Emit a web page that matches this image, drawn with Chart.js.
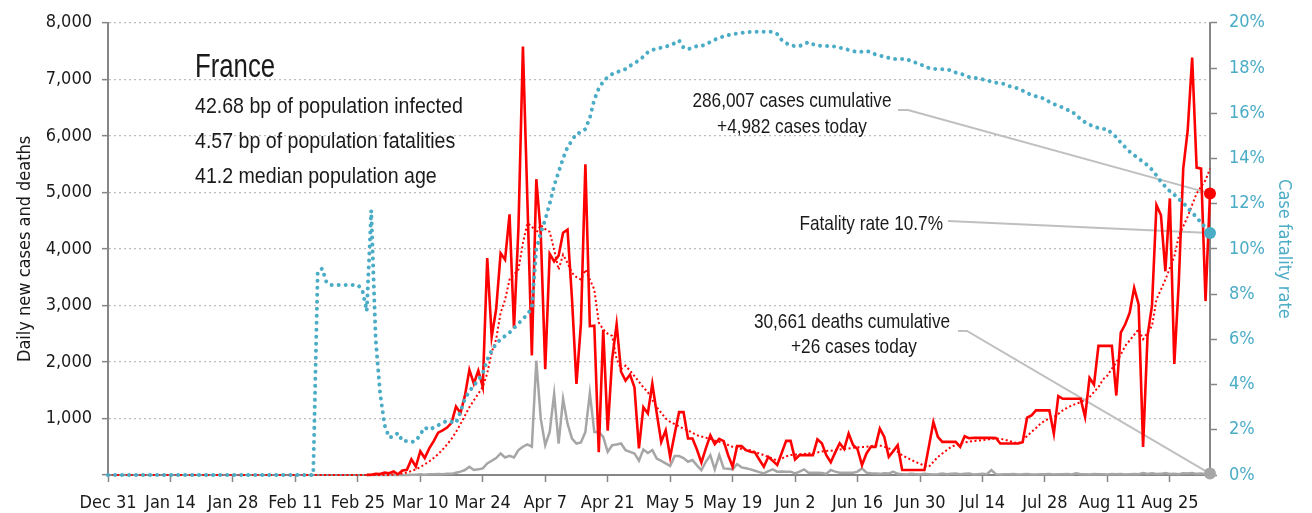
<!DOCTYPE html>
<html>
<head>
<meta charset="utf-8">
<script src="https://cdn.jsdelivr.net/npm/chart.js@4.4.1/dist/chart.umd.min.js"></script>
<style>
  html, body { margin: 0; padding: 0; background: #fff; }
  #wrap { width: 1312px; height: 513px; position: relative; }
</style>
</head>
<body>
<div id="wrap"><canvas id="myChart"></canvas></div>
<script>
const FONT = "'DejaVu Sans Condensed', 'Liberation Sans', sans-serif";
const NOTE_FONT = "'Liberation Sans', Arial, sans-serif";
const RED = '#ff0000';
const BLUE = '#4bacc6';
const DEATH_GRAY = '#a6a6a6';
const AXIS_GRAY = '#868686';

// one category per day, Dec 31 .. Sep 3
const monthNames = ['Jan', 'Feb', 'Mar', 'Apr', 'May', 'Jun', 'Jul', 'Aug', 'Sep', 'Oct', 'Nov', 'Dec'];
const days = [];
for (let i = 0; i < 248; i++) {
  const d = new Date(2019, 11, 31 + i);
  days.push(monthNames[d.getMonth()] + ' ' + d.getDate());
}
const tickLabels = ['Dec 31', 'Jan 14', 'Jan 28', 'Feb 11', 'Feb 25', 'Mar 10', 'Mar 24', 'Apr 7',
  'Apr 21', 'May 5', 'May 19', 'Jun 2', 'Jun 16', 'Jun 30', 'Jul 14', 'Jul 28', 'Aug 11', 'Aug 25'];

// daily new cases, from day 58 (Feb 26) on
const casesStart = 58;
const newCases = [
  2, 4, 20, 19, 43, 30, 61, 13, 81, 92, 276, 150, 420, 300, 470, 600, 750, 790, 840,
  924, 1210, 1097, 1404, 1861, 1617, 1847, 1559,
  3838, 2446, 2931, 3922, 3809, 4611, 2599, 4376, 7578, 4861,
  2116, 5233, 4267, 1873, 3912, 3777, 3881, 4286, 4342, 3114, 1613, 2673, 5497, 2633, 2641, 405,
  2569, 785, 2051, 2667, 1827, 1670, 1775, 1553, 470, 1200, 1090, 1615, 1090, 585, 790, 320,
  720, 1113, 1113, 645, 645, 450, 220, 470, 703, 545, 640, 600, 350, 146, 510, 510, 440, 410,
  400, 270, 146, 322, 250, 176, 390, 603, 603, 276, 352, 352, 352, 352, 630, 560, 352, 225,
  400, 563, 460, 732, 530, 457, 176, 381, 498, 498, 820, 674, 322, 420, 527, 88, 88, 88,
  88, 88, 88, 510, 938, 674, 586, 586, 586, 586, 498, 686, 650, 656, 656, 656, 656, 656,
  655, 557, 557, 557, 557, 557, 580, 1014, 1055, 1143, 1143, 1143, 1143, 732, 1395, 1348, 1348, 1348,
  1348, 1348, 1026, 1717, 1600, 2285, 2285, 2285, 2285, 1406, 2520, 2667, 2871, 3311, 3018, 498,
  2461, 3000, 4776, 4600, 3604, 4893, 1963, 3398, 5420, 6095, 7384, 5438, 5420, 3077, 4982
];

// daily new deaths, from day 58 on
const newDeaths = [
  0, 0, 0, 1, 0, 1, 1, 3, 2, 2, 5, 3, 11, 3, 15, 13, 18, 12,
  20, 20, 40, 60, 88, 146, 88, 100, 117, 205, 252, 300, 381, 310, 340, 310, 440, 500,
  540, 500, 2022, 997, 527, 762, 1436, 557, 1348, 909, 645, 557, 575, 762, 1447, 762,
  762, 674, 410, 527, 540, 557, 440, 410, 381, 252, 450, 390, 440, 290, 250, 205,
  160, 334, 334, 300, 234, 264, 170, 88, 234, 352, 100, 352, 117, 110, 100, 193,
  135, 120, 100, 76, 50, 29, 70, 100, 59, 60, 59, 59, 29, 60, 100, 41,
  41, 41, 35, 20, 88, 60, 41, 41, 41, 41, 60, 117, 41, 30, 25, 20,
  30, 25, 60, 20, 15, 10, 20, 15, 10, 20, 15, 10, 15, 25, 15, 20,
  25, 15, 20, 25, 10, 15, 20, 15, 88, 15, 10, 14, 12, 18, 10, 12,
  16, 11, 9, 15, 12, 17, 10, 14, 12, 16, 11, 30, 12, 14, 10, 16,
  12, 15, 11, 17, 13, 16, 10, 14, 19, 12, 35, 18, 30, 16, 20, 35,
  17, 22, 15, 30, 25, 35, 20, 25, 12, 26
];

// 7 day average of new cases, from day 0
const casesAvg = [
  0, 0, 0, 0, 0, 0, 0, 0, 0, 0, 0, 0, 0, 0, 0, 0, 0, 0, 0, 0,
  0, 0, 0, 0, 0, 0, 0, 0, 0, 0, 0, 0, 0, 0, 0, 0, 0, 0, 0, 0,
  0, 0, 0, 0, 0, 0, 0, 0, 0, 0, 0, 0, 0, 0, 0, 0, 0, 0, 0, 0,
  0, 0, 0, 0, 10, 15, 25, 45, 70, 100, 140, 190, 240, 300, 370, 450, 540, 640, 760, 900,
  1050, 1200, 1320, 1440, 1560, 1800, 2170, 2400, 2870, 3100, 3458, 3550, 3634, 4102, 4453, 4400, 4277, 4424, 4350, 4300,
  3985, 3634, 3898, 3750, 3575, 3500, 3458, 3634, 3458, 3282, 2695, 2578, 2500, 2461, 2051, 1875, 1934, 1846, 1750, 1650,
  1550, 1465, 1330, 1200, 1100, 1000, 940, 900, 860, 820, 790, 745, 703, 680, 660, 640, 610, 586, 560, 530,
  498, 480, 460, 445, 440, 410, 380, 352, 320, 290, 252, 290, 330, 352, 360, 365, 370, 380, 390, 400,
  415, 425, 430, 440, 450, 460, 470, 480, 490, 495, 500, 510, 527, 520, 500, 470, 440, 410, 350, 310,
  270, 230, 200, 160, 146, 234, 320, 381, 440, 498, 530, 557, 575, 590, 600, 610, 615, 625, 640, 645,
  640, 625, 603, 580, 557, 615, 690, 762, 830, 909, 960, 1000, 1026, 1080, 1143, 1190, 1230, 1260, 1290, 1330,
  1377, 1470, 1553, 1690, 1758, 1880, 1992, 2130, 2285, 2380, 2480, 2578, 2403, 2520, 2637, 3106, 3280, 3458, 3660, 3868,
  4219, 4400, 4571, 4780, 4980, 5100, 5216, 5420
];

// case fatality rate (%), from day 0
const fatalityRate = [
  0, 0, 0, 0, 0, 0, 0, 0, 0, 0, 0, 0, 0, 0, 0, 0, 0, 0, 0, 0,
  0, 0, 0, 0, 0, 0, 0, 0, 0, 0, 0, 0, 0, 0, 0, 0, 0, 0, 0, 0,
  0, 0, 0, 0, 0, 0, 0, 9.0, 9.13, 8.5, 8.4, 8.4, 8.4, 8.4, 8.4, 8.4, 8.4, 8.2, 7.25, 11.7,
  6.0, 3.6, 2.2, 1.66, 1.7, 1.86, 1.5, 1.5, 1.46, 1.5, 1.8, 2.1, 2.0, 2.1, 2.2, 2.3, 2.4, 2.35, 2.3, 2.8,
  3.37, 3.7, 3.96, 4.2, 4.5, 5.1, 5.5, 5.8, 6.0, 6.15, 6.3, 6.5, 6.7, 6.9, 7.1, 7.4, 10.0, 10.7, 11.3, 12.0,
  12.8, 13.4, 14.0, 14.5, 14.8, 15.1, 15.15, 15.3, 15.8, 16.6, 17.1, 17.4, 17.6, 17.73, 17.8, 17.9, 17.95, 18.1, 18.2, 18.35,
  18.5, 18.7, 18.8, 18.85, 18.9, 18.95, 19.0, 19.1, 19.22, 18.9, 18.83, 18.9, 18.97, 18.97, 19.05, 19.15, 19.25, 19.34, 19.4, 19.45,
  19.5, 19.52, 19.55, 19.58, 19.6, 19.6, 19.6, 19.6, 19.6, 19.6, 19.5, 19.24, 19.1, 19.0, 18.97, 18.97, 19.05, 19.15, 19.05, 19.0,
  18.97, 18.97, 18.97, 18.95, 18.9, 18.86, 18.8, 18.75, 18.7, 18.72, 18.75, 18.7, 18.6, 18.55, 18.5, 18.45, 18.4, 18.4, 18.4, 18.4,
  18.3, 18.24, 18.15, 18.1, 18.0, 17.97, 17.95, 17.95, 17.93, 17.9, 17.8, 17.75, 17.69, 17.6, 17.57, 17.54, 17.5, 17.45, 17.4, 17.35,
  17.32, 17.3, 17.2, 17.15, 17.1, 17.0, 16.9, 16.8, 16.75, 16.7, 16.63, 16.5, 16.4, 16.34, 16.25, 16.15, 16.1, 15.9, 15.75, 15.6,
  15.5, 15.4, 15.35, 15.3, 15.3, 15.1, 14.95, 14.7, 14.5, 14.3, 14.14, 14.0, 13.85, 13.7, 13.5, 13.25, 12.97, 12.75, 12.55, 12.4,
  12.2, 12.05, 11.8, 11.6, 11.4, 11.15, 10.95, 10.7
];

const last = days.length - 1;
const padFront = (start, arr) => new Array(start).fill(null).concat(arr);
const endDot = (c) => (c.dataIndex === last ? 6 : 0);

// narrow text, like the condensed face of the original
function narrowText(ctx, text, x, y, size, align, squeeze) {
  ctx.save();
  ctx.translate(x, y);
  ctx.scale(squeeze, 1);
  ctx.font = size + 'px ' + NOTE_FONT;
  ctx.textAlign = align;
  ctx.textBaseline = 'alphabetic';
  ctx.fillText(text, 0, 0);
  ctx.restore();
}

const notes = {
  id: 'notes',
  beforeDatasetsDraw(chart) {
    const ctx = chart.ctx;
    const red = chart.getDatasetMeta(1).data[last];
    const blue = chart.getDatasetMeta(0).data[last];
    const gray = chart.getDatasetMeta(3).data[last];
    if (!red || !blue || !gray) return;
    ctx.save();
    ctx.strokeStyle = '#bfbfbf';
    ctx.lineWidth = 2;
    ctx.beginPath();
    ctx.moveTo(898, 110); ctx.lineTo(908, 110); ctx.lineTo(red.x, red.y);
    ctx.moveTo(948, 221); ctx.lineTo(blue.x, blue.y);
    ctx.moveTo(958, 331); ctx.lineTo(967, 331); ctx.lineTo(gray.x, gray.y);
    ctx.stroke();
    ctx.restore();
  },
  afterDraw(chart) {
    const ctx = chart.ctx;
    ctx.save();
    ctx.fillStyle = '#1a1a1a';
    narrowText(ctx, 'France', 195, 77, 33, 'left', 0.78);
    narrowText(ctx, '42.68 bp of population infected', 195, 113, 22, 'left', 0.89);
    narrowText(ctx, '4.57 bp of population fatalities', 195, 148, 22, 'left', 0.89);
    narrowText(ctx, '41.2 median population age', 195, 183, 22, 'left', 0.89);
    narrowText(ctx, '286,007 cases cumulative', 792, 107, 21, 'center', 0.82);
    narrowText(ctx, '+4,982 cases today', 792, 133, 21, 'center', 0.82);
    narrowText(ctx, '30,661 deaths cumulative', 852, 328, 21, 'center', 0.82);
    narrowText(ctx, '+26 cases today', 854, 353, 21, 'center', 0.82);
    narrowText(ctx, 'Fatality rate 10.7%', 943, 230, 21, 'right', 0.82);
    ctx.restore();
  }
};

const ctx = document.getElementById('myChart');
const myChart = new Chart(ctx, {
  type: 'line',
  data: {
    labels: days,
    datasets: [{
      label: 'Case fatality rate',
      data: fatalityRate,
      yAxisID: 'y1',
      borderColor: BLUE,
      backgroundColor: BLUE,
      borderWidth: 4,
      borderDash: [0.01, 7],
      borderCapStyle: 'round',
      pointRadius: endDot,
      pointBorderWidth: 0,
      order: 0
    }, {
      label: 'New cases',
      data: padFront(casesStart, newCases),
      yAxisID: 'y',
      borderColor: RED,
      backgroundColor: RED,
      borderWidth: 2.6,
      pointRadius: endDot,
      pointBorderWidth: 0,
      order: 2
    }, {
      label: 'Cases 7 day average',
      data: casesAvg,
      yAxisID: 'y',
      borderColor: RED,
      borderWidth: 2,
      borderDash: [2, 2.5],
      pointRadius: 0,
      order: 1
    }, {
      label: 'New deaths',
      data: padFront(casesStart, newDeaths),
      yAxisID: 'y',
      borderColor: DEATH_GRAY,
      backgroundColor: DEATH_GRAY,
      borderWidth: 2.5,
      pointRadius: endDot,
      pointBorderWidth: 0,
      order: 3
    }]
  },
  options: {
    responsive: true,
    maintainAspectRatio: false,
    animation: false,
    clip: 10,
    elements: { line: { tension: 0 } },
    layout: { padding: { top: 15, left: 0, right: 0, bottom: 0 } },
    plugins: {
      legend: { display: false },
      tooltip: { enabled: false }
    },
    scales: {
      x: {
        type: 'category',
        offset: false,
        afterFit: (s) => { s.height = 38; },
        grid: {
          drawOnChartArea: false,
          tickLength: 7,
          tickWidth: 1.5,
          tickColor: (c) => (tickLabels.includes(days[c.index]) ? AXIS_GRAY : 'rgba(0,0,0,0)')
        },
        border: { color: AXIS_GRAY, width: 2 },
        ticks: {
          autoSkip: false,
          maxRotation: 0,
          minRotation: 0,
          padding: 11,
          color: '#1a1a1a',
          font: { family: FONT, size: 18 },
          callback: (v, i) => (tickLabels.includes(days[i]) ? days[i] : '')
        }
      },
      y: {
        position: 'left',
        min: 0,
        max: 8000,
        afterFit: (s) => { s.width = 108; },
        title: {
          display: true,
          text: 'Daily new cases and deaths',
          color: '#1a1a1a',
          font: { family: FONT, size: 18 },
          padding: { top: 15, bottom: 0 }
        },
        ticks: {
          stepSize: 1000,
          padding: 10,
          color: '#1a1a1a',
          font: { family: FONT, size: 18 },
          callback: (v) => (v === 0 ? '' : v.toLocaleString('en-US'))
        },
        grid: {
          color: (c) => (c.tick && c.tick.value === 0 ? 'rgba(0,0,0,0)' : '#bdbdbd'),
          lineWidth: 1.3,
          tickLength: 6,
          tickColor: AXIS_GRAY,
          tickWidth: 1.5
        },
        border: { color: AXIS_GRAY, width: 2, dash: [2, 3] }
      },
      y1: {
        position: 'right',
        min: 0,
        max: 20,
        afterFit: (s) => { s.width = 102; },
        title: {
          display: true,
          text: 'Case fatality rate',
          color: BLUE,
          font: { family: FONT, size: 18 },
          padding: { top: 18, bottom: 0 }
        },
        ticks: {
          stepSize: 2,
          padding: 12,
          color: BLUE,
          font: { family: FONT, size: 18 },
          callback: (v) => v + '%'
        },
        grid: {
          drawOnChartArea: false,
          tickLength: 7,
          tickColor: AXIS_GRAY,
          tickWidth: 1.5
        },
        border: { color: AXIS_GRAY, width: 2 }
      }
    }
  },
  plugins: [notes]
});
</script>
</body>
</html>
